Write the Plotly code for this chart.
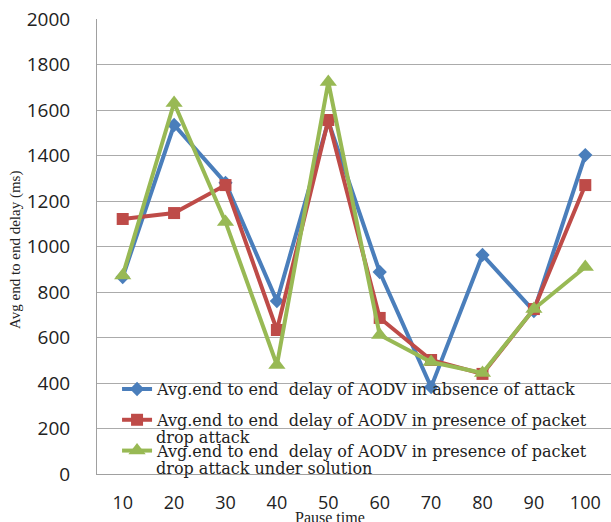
import plotly.graph_objects as go

# Pause time categories (s)
pause_time = ["10", "20", "30", "40", "50", "60", "70", "80", "90", "100"]

# Average end-to-end delay (ms) for each scenario
delay_no_attack = [866, 1534, 1280, 760, 1550, 888, 382, 963, 716, 1402]
delay_attack = [1121, 1147, 1270, 633, 1556, 686, 501, 440, 725, 1270]
delay_solution = [873, 1631, 1108, 479, 1723, 611, 492, 444, 725, 910]

y_ticks = list(range(0, 2001, 200))

names = [
    "Avg.end to end  delay of AODV in absence of attack",
    "Avg.end to end  delay of AODV in presence of packet",
    "Avg.end to end  delay of AODV in presence of packet",
]
continuations = ["drop attack", "drop attack under solution"]

colors = ["#4A7EBB", "#BE4B48", "#98B954"]
symbols = ["diamond", "square", "triangle-up"]
sizes = [11, 12, 15]
series = [delay_no_attack, delay_attack, delay_solution]

fig = go.Figure()
for i, (vals, name) in enumerate(zip(series, names)):
    fig.add_trace(go.Scatter(
        x=pause_time, y=vals, name=name, mode="lines+markers",
        legendgroup=f"g{i}",
        line=dict(color=colors[i], width=4),
        marker=dict(symbol=symbols[i], size=sizes[i], color=colors[i]),
    ))

serif = "DejaVu Serif"
fig.update_layout(
    width=611, height=522,
    margin=dict(l=97, r=0, t=19, b=48),
    paper_bgcolor="white", plot_bgcolor="white",
    showlegend=True,
    legend=dict(
        x=0.039, xanchor="left", y=0.224, yanchor="top",
        bgcolor="rgba(0,0,0,0)", borderwidth=0,
        font=dict(family=serif, size=16, color="#222"),
        tracegroupgap=7,
        valign="middle",
    ),
    xaxis=dict(
        type="category", range=[-0.5, 9.5], showgrid=False,
        showline=True, linecolor="#A0A0A0", linewidth=1,
        ticks="", ticklabelstandoff=12,
        tickfont=dict(family="Open Sans", size=18, color="#222"),
    ),
    yaxis=dict(
        range=[0, 2000], tickvals=y_ticks,
        showgrid=True, gridcolor="#ABABAB", gridwidth=1,
        showline=True, linecolor="#A0A0A0", linewidth=1,
        zeroline=False, ticks="", ticklabelstandoff=22,
        tickfont=dict(family="Open Sans", size=19, color="#222"),
    ),
)

# Second lines of the two long legend labels
for k, (txt, ypix) in enumerate(zip(continuations, [437, 468])):
    fig.add_annotation(
        text=txt, xref="paper", yref="paper",
        x=(154 - 97) / 514, y=(474 - ypix) / 455,
        xanchor="left", yanchor="middle", showarrow=False,
        font=dict(family=serif, size=16, color="#222"),
    )

# Axis titles
fig.add_annotation(
    text="Pause time", xref="paper", yref="paper",
    x=(330 - 97) / 514, y=0, xanchor="center", yanchor="top",
    yshift=-33, showarrow=False,
    font=dict(family="Liberation Serif", size=16, color="#222"),
)
fig.add_annotation(
    text="Avg end to end delay (ms)", xref="paper", yref="paper",
    x=0, y=(474 - 250) / 455, xanchor="center", yanchor="middle",
    xshift=-82, textangle=-90, showarrow=False,
    font=dict(family="Liberation Serif", size=15, color="#222"),
)

fig.write_html("out.html")
